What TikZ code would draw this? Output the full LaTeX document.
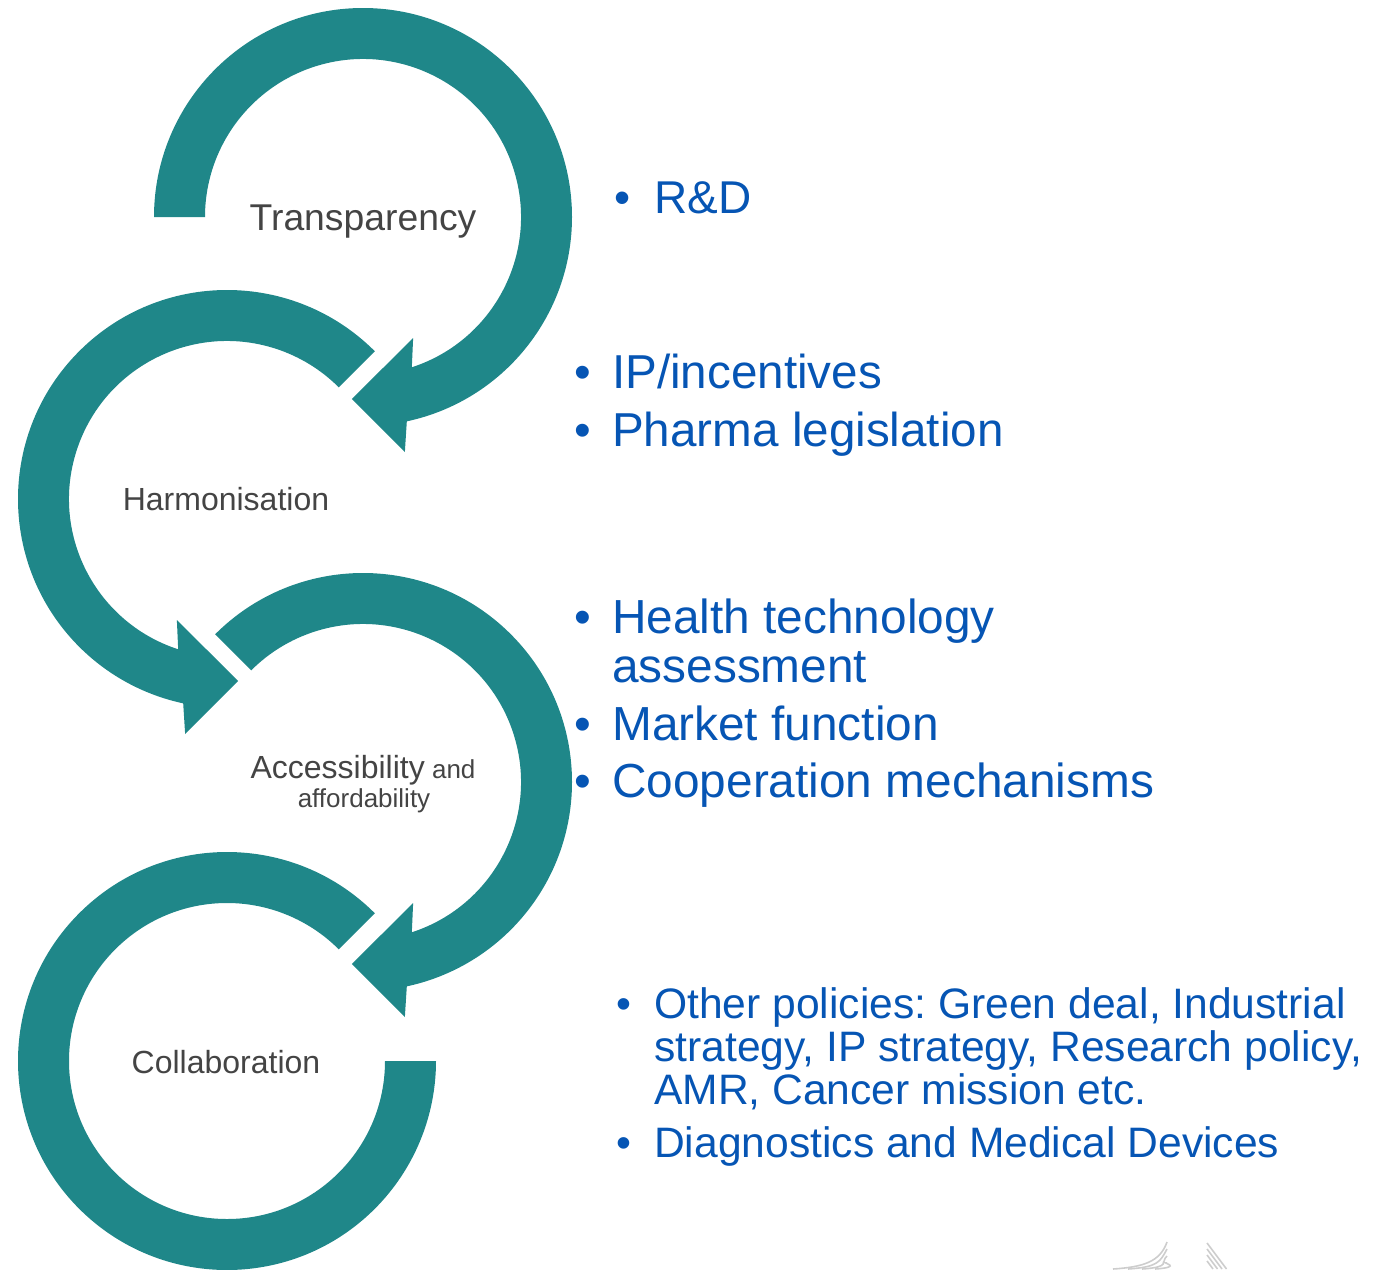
\documentclass[tikz,border=0pt]{standalone}
\usepackage{fontspec}
\setmainfont{Liberation Sans}
\frenchspacing
\definecolor{arcteal}{RGB}{31,135,137}
\definecolor{lblgray}{RGB}{68,68,68}
\definecolor{txtblue}{RGB}{6,85,180}
\definecolor{logogray}{RGB}{205,205,205}
\newcommand\fsz[1]{\fontsize{#1}{#1}\selectfont}
% clockwise ring arrow: #1,#2 centre, #3 start angle
\newcommand\cwring[3]{%
  \begin{scope}[shift={(#1,#2)}]
    \fill[ring] (#3:209) arc[start angle=#3, end angle=-77.9, radius=209]
      -- (-79.9:238.7) -- (-93.5:182.3) -- (-67.5:131) -- (-72:158)
      arc[start angle=-72, end angle=#3, radius=158] -- cycle;
  \end{scope}}
% counter-clockwise ring arrow
\newcommand\ccwring[3]{%
  \begin{scope}[shift={(#1,#2)}]
    \fill[ring] (#3:209) arc[start angle=#3, end angle=257.9, radius=209]
      -- (259.9:238.7) -- (273.5:182.3) -- (247.5:131) -- (252:158)
      arc[start angle=252, end angle=#3, radius=158] -- cycle;
  \end{scope}}
\begin{document}
\begin{tikzpicture}[x=1pt,y=1pt,
  ring/.style={fill=arcteal, draw=none},
  lbl/.style={text=lblgray, inner sep=0pt, anchor=base},
  itm/.style={text=txtblue, inner sep=0pt, anchor=base west},
  bul/.style={text=txtblue, inner sep=0pt, anchor=base},
  logoline/.style={draw=logogray, line width=1.6pt}]
\useasboundingbox (0,0) rectangle (1389,-1269);

% rings
\cwring{363}{-217}{180}
\ccwring{227}{-499}{45}
\cwring{363}{-782}{135}
\begin{scope}[shift={(227,-1061)}]
  \fill[ring] (45:209) arc[start angle=45, end angle=360, radius=209]
    -- (0:158) arc[start angle=360, end angle=45, radius=158] -- cycle;
\end{scope}

% ring labels
\node[lbl, font=\fsz{37.3}] (transp) at (363,-230) {Transparency};
\node[lbl, font=\fsz{32}] (harmon) at (226,-510) {Harmonisation};
\node[lbl, font=\fsz{32}] (access) at (363,-778) {Accessibility{\fsz{26} and}};
\node[lbl, font=\fsz{26}] (afford) at (364,-807) {affordability};
\node[lbl, font=\fsz{32}] (collab) at (226,-1073) {Collaboration};

% bullet lists
\node[bul, font=\fsz{46}] (b1) at (623,-213) {•};
\node[itm, font=\fsz{46}] (rd) at (654,-213) {R\&D};

\node[bul, font=\fsz{47.6}] (b2) at (583,-388) {•};
\node[itm, font=\fsz{47.6}] (ip) at (612,-388) {IP/incentives};
\node[bul, font=\fsz{47.6}] (b3) at (583,-446) {•};
\node[itm, font=\fsz{47.6}] (pharma) at (612,-446) {Pharma legislation};

\node[bul, font=\fsz{47.8}] (b4) at (583,-633) {•};
\node[itm, font=\fsz{47.8}] (hta1) at (612,-633) {Health technology};
\node[itm, font=\fsz{47.8}] (hta2) at (612,-682) {assessment};
\node[bul, font=\fsz{47.8}] (b5) at (583,-740) {•};
\node[itm, font=\fsz{47.8}] (market) at (612,-740) {Market function};
\node[bul, font=\fsz{47.8}] (b6) at (583,-797) {•};
\node[itm, font=\fsz{47.8}] (coop) at (612,-797) {Cooperation mechanisms};

\node[bul, font=\fsz{42.6}] (b7) at (624,-1018) {•};
\node[itm, font=\fsz{42.6}] (oth1) at (654,-1018) {Other policies: Green deal, Industrial};
\node[itm, font=\fsz{42.6}] (oth2) at (654,-1061) {strategy, IP strategy, Research policy,};
\node[itm, font=\fsz{42.6}] (oth3) at (654,-1104) {AMR, Cancer mission etc.};
\node[bul, font=\fsz{42.6}] (b8) at (624,-1157) {•};
\node[itm, font=\fsz{42.6}] (diag) at (654,-1157) {Diagnostics and Medical Devices};

% faint logo fragment, bottom right
\foreach \sx/\ey in {1113/1242,1128/1249,1142/1256,1155/1263}{
  \draw[logoline] (\sx,-1269) .. controls (\sx+30,-1267) and (1160,-1262) .. (1167,-\ey);
}
\foreach \k in {0,1,2,3}{
  \draw[logoline] (1207,-1243-6*\k) -- ({1207+(26-6*\k)*0.75},-1269);
}
\end{tikzpicture}
\end{document}
